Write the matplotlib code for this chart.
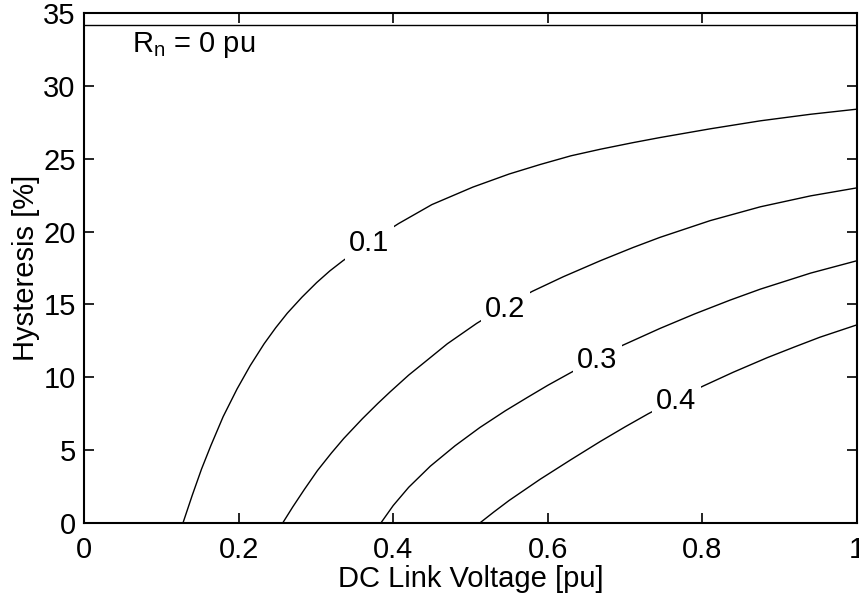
import matplotlib
matplotlib.use("Agg")
import matplotlib.pyplot as plt

plt.rcParams['font.family'] = ['Liberation Sans', 'DejaVu Sans']
plt.rcParams['mathtext.fontset'] = 'custom'
plt.rcParams['mathtext.rm'] = 'Liberation Sans'
plt.rcParams['mathtext.it'] = 'Liberation Sans'

# Hysteresis vs. DC link voltage, one curve per neutral resistance Rn
rn_values = ['0.1', '0.2', '0.3', '0.4']

v_rn0 = [0.0, 1.0]
h_rn0 = [34.2, 34.2]

v_rn01 = [0.0, 0.128, 0.14, 0.152, 0.164, 0.18, 0.198, 0.215, 0.233, 0.248, 0.263,
          0.282, 0.301, 0.318, 0.335, 0.37, 0.407, 0.45, 0.503, 0.55, 0.59, 0.63,
          0.668, 0.71, 0.745, 0.81, 0.875, 0.94, 1.0]
h_rn01 = [0.0, 0.0, 1.9, 3.7, 5.3, 7.3, 9.2, 10.8, 12.3, 13.4, 14.4,
          15.5, 16.5, 17.3, 18.0, 19.3, 20.55, 21.85, 23.05, 23.95, 24.6, 25.2,
          25.65, 26.1, 26.45, 27.05, 27.6, 28.05, 28.4]

v_rn02 = [0.0, 0.257, 0.27, 0.285, 0.302, 0.32, 0.336, 0.36, 0.38, 0.396, 0.42,
          0.441, 0.47, 0.508, 0.545, 0.58, 0.62, 0.668, 0.71, 0.745, 0.81, 0.875,
          0.94, 1.0]
h_rn02 = [0.0, 0.0, 1.1, 2.3, 3.6, 4.8, 5.8, 7.15, 8.2, 9.0, 10.15,
          11.05, 12.3, 13.7, 14.9, 15.9, 16.9, 18.0, 18.9, 19.6, 20.75, 21.7,
          22.45, 23.0]

v_rn03 = [0.0, 0.384, 0.40, 0.42, 0.448, 0.48, 0.512, 0.545, 0.573, 0.60, 0.629,
          0.66, 0.697, 0.745, 0.79, 0.836, 0.875, 0.94, 1.0]
h_rn03 = [0.0, 0.0, 1.2, 2.45, 3.9, 5.3, 6.55, 7.7, 8.6, 9.45, 10.3,
          11.2, 12.2, 13.35, 14.35, 15.3, 16.05, 17.15, 18.0]

v_rn04 = [0.0, 0.512, 0.53, 0.55, 0.59, 0.63, 0.668, 0.70, 0.73, 0.766, 0.801,
          0.84, 0.884, 0.92, 0.952, 1.0]
h_rn04 = [0.0, 0.0, 0.75, 1.55, 3.0, 4.35, 5.6, 6.6, 7.5, 8.5, 9.4,
          10.35, 11.35, 12.1, 12.75, 13.6]

# where each inline label sits on its curve
label_v = [0.369, 0.545, 0.664, 0.766]
label_h = [19.2, 14.7, 11.2, 8.4]

curves = [(v_rn01, h_rn01), (v_rn02, h_rn02), (v_rn03, h_rn03), (v_rn04, h_rn04)]

fig = plt.figure(figsize=(8.59, 5.98), dpi=100)
ax = fig.add_axes([0.0978, 0.1254, 0.8999, 0.8529])

ax.plot(v_rn0, h_rn0, color='black', lw=1.0)
for (v, h) in curves:
    ax.plot(v, h, color='black', lw=1.0)

for txt, x, y in zip(rn_values, label_v, label_h):
    ax.text(x, y, txt, fontsize=21, ha='center', va='center', zorder=5,
            bbox=dict(boxstyle='square,pad=0.15', fc='white', ec='none'))

ax.text(0.062, 32.3, r'R$_{\mathrm{n}}$ = 0 pu', fontsize=21, ha='left', va='baseline')

ax.set_xlim(0, 1)
ax.set_ylim(0, 35)
ax.set_xticks([0, 0.2, 0.4, 0.6, 0.8, 1])
ax.set_xticklabels(['0', '0.2', '0.4', '0.6', '0.8', '1'])
ax.set_yticks(range(0, 36, 5))

ax.tick_params(direction='in', length=7, width=1.2, labelsize=21,
               top=True, right=True)
ax.tick_params(axis='x', pad=9)
ax.tick_params(axis='y', pad=6)
for s in ax.spines.values():
    s.set_linewidth(1.5)

ax.set_xlabel('DC Link Voltage [pu]', fontsize=21, labelpad=1)
ax.set_ylabel('Hysteresis [%]', fontsize=21, labelpad=2)

fig.savefig('out.png', dpi=100)
